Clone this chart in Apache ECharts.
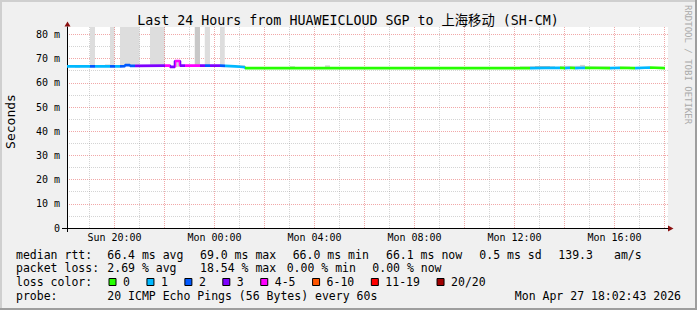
<!DOCTYPE html>
<html><head><meta charset="utf-8">
<script src="https://cdn.jsdelivr.net/npm/echarts@6/dist/echarts.min.js"></script>
<style>html,body{margin:0;padding:0;background:#f0f0f0}#c{width:697px;height:310px}</style>
</head><body><div id="c"></div>
<script>
// ---- data (time in hours since Sun 00:00) ----
const segStart = [18.10, 19.02, 19.22, 19.82, 20.02, 20.22, 20.42, 20.62, 20.82, 22.02, 22.22, 22.42, 22.62, 22.82, 23.42, 23.62, 23.82, 24.22, 24.42, 24.82, 25.02, 25.22, 36.62, 37.82, 38.02, 38.22, 38.42, 38.82, 39.82, 40.22, 40.82, 41.42];
const dataEnd = 42.02;
const segValue = [66.8, 66.8, 66.8, 66.8, 66.8, 66.9, 67.3, 67.0, 67.1, 67.1, 66.6, 69.0, 67.1, 67.1, 67.1, 67.1, 67.1, 67.0, 66.8, 66.6, 66.4, 66.05, 66.2, 66.05, 66.2, 66.05, 66.2, 66.05, 66.2, 66.05, 66.3, 66.05];
const segLoss = [1, 2, 1, 2, 1, 2, 2, 2, 3, 4, 3, 4, 3, 4, 3, 2, 3, 2, 1, 1, 1, 0, 1, 0, 1, 0, 1, 0, 1, 0, 1, 0];

const tallStart = [19.02, 19.82, 20.22, 21.42, 23.21, 23.61, 24.22];
const tallEnd = [19.22, 20.00, 21.00, 22.01, 23.42, 23.82, 24.41];
const tallLow = [66.8, 66.8, 66.9, 67.1, 67.1, 67.1, 67.0];
const tallDensity = [1, 1, 1, 1, 2, 1, 1];

const smokeStart = [18.42, 19.62, 22.42, 24.82, 27.02, 28.42, 36.22, 36.62, 36.82, 37.82, 38.62, 38.82, 40.22];
const smokeEnd = [18.62, 19.82, 22.62, 25.22, 27.22, 28.62, 36.62, 37.62, 37.42, 38.62, 38.82, 39.82, 40.62];
const smokeLow = [66.2, 67.2, 66.5, 66.7, 66.4, 66.4, 66.3, 66.3, 66.3, 66.3, 66.3, 66.3, 66.3];
const smokeHigh = [66.5, 67.6, 68.6, 67.3, 66.9, 67.2, 66.8, 66.9, 66.9, 67.0, 67.4, 66.8, 66.7];
const smokeDensity = [1, 1, 1, 1, 1, 1, 1, 1, 2, 1, 1, 1, 1];

const xLabelHours = [20, 24, 28, 32, 36, 40];
const gridHours = [19, 20, 21, 22, 23, 24, 25, 26, 27, 28, 29, 30, 31, 32, 33, 34, 35, 36, 37, 38, 39, 40, 41, 42];

const lossLabels = ['0', '1', '2', '3', '4-5', '6-10', '11-19', '20/20'];
const lossColors = ['#26ff00', '#00b8ff', '#0059ff', '#7e00ff', '#ff00ff', '#ff5500', '#ff0000', '#a00000'];

const titleText = 'Last 24 Hours from HUAWEICLOUD SGP to 上海移动 (SH-CM)';
const rttLabel = 'median rtt:';
const rttItems = ['66.4 ms avg', '69.0 ms max', '66.0 ms min', '66.1 ms now', '0.5 ms sd', '139.3', 'am/s'];
const lossLabel = 'packet loss:';
const lossItems = ['2.69 % avg', '18.54 % max', '0.00 % min', '0.00 % now'];
const probeLabel = 'probe:';
const probeText = '20 ICMP Echo Pings (56 Bytes) every 60s';
const stampText = 'Mon Apr 27 18:02:43 2026';

// ---- layout ----
const MONO = "'DejaVu Sans Mono', 'Noto Sans CJK SC', monospace";
const X0 = 67, XW = 601, Y0 = 27, YH = 201;
const XMIN = 18.1, XMAX = XMIN + XW / 25;
const YMAX = YH / 2.42;
const MGRID = 'rgba(222,48,48,0.42)', GRID = 'rgba(143,143,143,0.38)';

const lineData = segStart.map((s, i) => [s, segValue[i]]);
lineData.push([dataEnd, segValue[segValue.length - 1]]);
const pieces = segStart.map((s, i) => ({
  gte: s, lt: (i + 1 < segStart.length ? segStart[i + 1] : dataEnd + 1), color: lossColors[segLoss[i]]
}));

const tallAreas = tallStart.map((s, i) => [
  { xAxis: s, yAxis: tallLow[i], itemStyle: { color: tallDensity[i] > 1 ? '#c8c8c8' : '#dddddd' } },
  { xAxis: tallEnd[i], yAxis: YMAX }
]);
const smokeAreas = smokeStart.map((s, i) => [
  { xAxis: s, yAxis: smokeLow[i], itemStyle: { color: smokeDensity[i] > 1 ? '#b4b4b4' : '#d4d4d4' } },
  { xAxis: smokeEnd[i], yAxis: smokeHigh[i] }
]);
const vGrid = gridHours.filter(h => h > XMIN && h < XMAX).map(h => ({
  xAxis: h, lineStyle: { color: h % 2 === 0 ? MGRID : GRID, type: [1, 1], width: 1 }
}));

const fmtHour = h => (h < 24 ? 'Sun ' : 'Mon ') + String(h % 24).padStart(2, '0') + ':00';

// legend graphics
const CW = 6.94, FS = 11.5;
const g = [];
function txt(x, y, s, extra) {
  g.push(Object.assign({ type: 'text', x: x, y: y, style: Object.assign({ text: s, font: FS + 'px ' + MONO, fill: '#000', textVerticalAlign: 'middle', textAlign: 'left' }, extra || {}) }));
}
// border shading
g.push({ type: 'rect', shape: { x: 0, y: 0, width: 697, height: 2 }, style: { fill: '#cfcfcf' } });
g.push({ type: 'rect', shape: { x: 0, y: 0, width: 2, height: 310 }, style: { fill: '#cfcfcf' } });
g.push({ type: 'rect', shape: { x: 0, y: 308, width: 697, height: 2 }, style: { fill: '#9e9e9e' } });
g.push({ type: 'rect', shape: { x: 695, y: 0, width: 2, height: 310 }, style: { fill: '#9e9e9e' } });

// title
txt(348, 20, titleText, { font: '13.3px ' + MONO, textAlign: 'center' });
// side credit
g.push({ type: 'text', x: 688, y: 5, rotation: -Math.PI / 2, style: { text: 'RRDTOOL / TOBI OETIKER', font: '9px ' + MONO, fill: '#aaaaaa', textVerticalAlign: 'middle', textAlign: 'left' } });
// y axis name
g.push({ type: 'text', x: 10.5, y: 121.5, rotation: Math.PI / 2, style: { text: 'Seconds', font: '13px ' + MONO, fill: '#000', textVerticalAlign: 'middle', textAlign: 'center' } });

const rttX = [107.3, 200, 292.7, 386, 479.3, 558.3, 614];
txt(16, 254.5, rttLabel);
rttItems.forEach((s, i) => txt(rttX[i], 254.5, s));
const lossX = [107.3, 200, 286.7, 372.3];
txt(16, 268.3, lossLabel);
lossItems.forEach((s, i) => txt(lossX[i], 268.3, s));
txt(16, 282.1, 'loss color:');
let bx = 108.5;
lossLabels.forEach((s, i) => {
  g.push({ type: 'rect', shape: { x: bx + 0.5, y: 278.5, width: 7, height: 7 }, style: { fill: lossColors[i], stroke: '#000', lineWidth: 1 } });
  txt(bx + 14.5, 282.1, s);
  bx = bx + 14.5 + s.length * CW + 16.5;
});
txt(16, 296, probeLabel);
txt(107.3, 296, probeText);
txt(681, 296, stampText, { textAlign: 'right' });

// axes extras & arrows
g.push({ type: 'line', shape: { x1: 62, y1: 228.5, x2: 67, y2: 228.5 }, style: { stroke: '#000', lineWidth: 1 } });
g.push({ type: 'line', shape: { x1: 67.5, y1: 228, x2: 67.5, y2: 232 }, style: { stroke: '#000', lineWidth: 1 } });
g.push({ type: 'polygon', shape: { points: [[64.5, 26.5], [70.5, 26.5], [67.5, 21.5]] }, style: { fill: '#8b1010' } });
g.push({ type: 'polygon', shape: { points: [[668, 225.5], [668, 231.5], [673.5, 228.5]] }, style: { fill: '#8b1010' } });

const chart = echarts.init(document.getElementById('c'), null, { renderer: 'svg' });
chart.setOption({
  backgroundColor: '#f0f0f0',
  animation: false,
  grid: { left: X0, top: Y0, width: XW, height: YH, show: true, backgroundColor: '#ffffff', borderWidth: 0 },
  xAxis: {
    type: 'value', min: XMIN, max: XMAX,
    axisLine: { show: true, lineStyle: { color: '#000', width: 1 } },
    axisTick: { show: false },
    splitLine: { show: false },
    axisLabel: { customValues: xLabelHours, formatter: v => fmtHour(v), color: '#000', fontFamily: MONO, fontSize: 10, margin: 4 }
  },
  yAxis: {
    type: 'value', min: 0, max: YMAX, interval: 5,
    axisLine: { show: true, lineStyle: { color: '#000', width: 1 } },
    axisTick: { show: false },
    axisLabel: { interval: 0, showMaxLabel: false, formatter: v => v === 0 ? '0' : (v % 10 === 0 ? v + ' m' : ''), color: '#000', fontFamily: MONO, fontSize: 10, margin: 7 },
    splitLine: { show: true, showMaxLine: false, lineStyle: { color: [MGRID, GRID], type: [1, 1], width: 1 } }
  },
  visualMap: { type: 'piecewise', show: false, dimension: 0, seriesIndex: 3, pieces: pieces },
  series: [
    { type: 'line', data: [], z: 1, silent: true, markArea: { silent: true, data: tallAreas } },
    { type: 'line', data: [], z: 2, silent: true, markArea: { silent: true, data: smokeAreas } },
    { type: 'line', data: [], z: 3, silent: true, markLine: { silent: true, symbol: 'none', label: { show: false }, data: vGrid } },
    { type: 'line', data: lineData, step: 'end', symbol: 'none', z: 5, lineStyle: { width: 2.6 } }
  ],
  graphic: g
});
</script></body></html>
